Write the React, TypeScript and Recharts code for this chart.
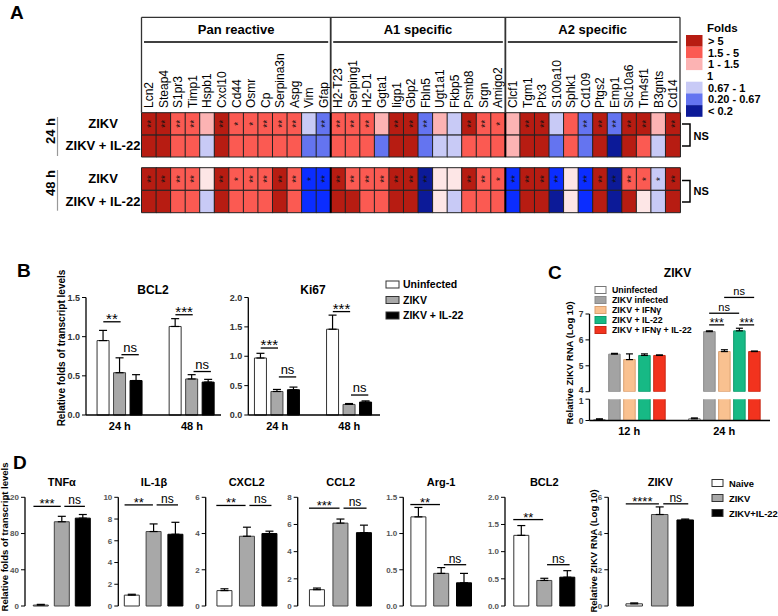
import React from 'react';
import { ComposedChart, Bar, XAxis, YAxis, Cell, ErrorBar, ReferenceLine, LabelList } from 'recharts';

const FONT = '"Liberation Sans", Arial, Helvetica, sans-serif';

// ---------------- Panel A data ----------------
const GENE_GROUPS = ['Pan reactive', 'A1 specific', 'A2 specific'];
const PAN_GENES = ['Lcn2', 'Steap4', 'S1pr3', 'Timp1', 'Hspb1', 'Cxcl10', 'Cd44', 'Osmr', 'Cp', 'Serpina3n', 'Aspg', 'Vim', 'Gfap'];
const A1_GENES = ['H2-T23', 'Serping1', 'H2-D1', 'Ggta1', 'Iigp1', 'Gbp2', 'Fbln5', 'Ugt1a1', 'Fkbp5', 'Psmb8', 'Srgn', 'Amigo2'];
const A2_GENES = ['Clcf1', 'Tgm1', 'Ptx3', 'S100a10', 'Sphk1', 'Cd109', 'Ptgs2', 'Emp1', 'Slc10a6', 'Tm4sf1', 'B3gnts', 'Cd14'];
const GENES = [...PAN_GENES, ...A1_GENES, ...A2_GENES];
const HEAT_ROWS = ['ZIKV', 'ZIKV + IL-22'];
const HEAT_TIMES = ['24 h', '48 h'];

// fold bins: D >5, R 1.5-5, P 1-1.5, W ~1, L 0.67-1, B 0.2-0.67, V strong 0.2-0.67, N <0.2
const ZIKV_24H = ['D','D','R','R','P','D','R','R','R','R','R','L','B', 'R','R','R','P','D','D','B','P','L','D','R','R', 'P','D','D','L','R','B','D','B','D','D','P','D'];
const IL22_24H = ['D','D','R','R','L','D','R','R','R','R','R','B','B', 'R','R','R','B','D','D','B','L','L','R','R','R', 'P','D','D','B','R','B','D','N','D','R','L','D'];
const ZIKV_48H = ['D','D','R','R','W','D','R','R','R','D','R','V','V', 'D','R','R','R','D','D','N','W','W','D','R','R', 'V','D','D','V','W','V','D','N','R','R','L','D'];
const IL22_48H = ['D','D','R','R','L','D','R','R','R','D','R','V','V', 'D','D','R','R','D','D','N','W','L','R','R','R', 'V','D','D','N','W','V','D','N','D','W','L','D'];
const SIG_24H = ['**','**','**','**','','**','*','*','**','**','**','','**', '**','**','**','','**','**','**','','','**','**','*', '','**','**','','','**','**','**','**','**','','**'];
const SIG_48H = ['**','**','**','**','','**','*','**','**','**','**','*','**', '**','**','**','**','**','**','**','','','**','**','*', '**','**','**','**','','**','**','**','**','*','*','**'];

const FOLD_COLORS: Record<string, string> = {
  D: '#b71c12', R: '#fb5a52', P: '#fcb3b3', W: '#fde6e6', L: '#c8caf6', B: '#6474f0', V: '#0b2dff', N: '#0c1a98',
};
const FOLD_LEGEND = [
  { label: '> 5', code: 'D' }, { label: '1.5 - 5', code: 'R' }, { label: '1 - 1.5', code: 'P' },
  { label: '0.67 - 1', code: 'L' }, { label: '0.20 - 0.67', code: 'B' }, { label: '< 0.2', code: 'N' },
];

// ---------------- Panel B data ----------------
const B_TIMES = ['24 h', '48 h'];
const B_SERIES = ['Uninfected', 'ZIKV', 'ZIKV + IL-22'];
const BCL2_MEAN = [[0.95, 0.54, 0.44], [1.13, 0.46, 0.42]];
const BCL2_SD = [[0.13, 0.19, 0.075], [0.10, 0.055, 0.035]];
const KI67_MEAN = [[0.97, 0.40, 0.43], [1.46, 0.18, 0.22]];
const KI67_SD = [[0.08, 0.035, 0.045], [0.24, 0.015, 0.02]];

// ---------------- Panel C data ----------------
const C_TIMES = ['12 h', '24 h'];
const C_SERIES = ['Uninfected', 'ZIKV infected', 'ZIKV + IFNγ', 'ZIKV + IL-22', 'ZIKV + IFNγ + IL-22'];
const C_MEAN = [[0.04, 5.45, 5.24, 5.40, 5.40], [0.08, 6.32, 5.55, 6.35, 5.55]];
const C_SD = [[0.04, 0.03, 0.22, 0.06, 0.02], [0.04, 0.03, 0.07, 0.10, 0.02]];

// ---------------- Panel D data ----------------
const D_SERIES = ['Naive', 'ZIKV', 'ZIKV+IL-22'];
const D_TITLES = ['TNFα', 'IL-1β', 'CXCL2', 'CCL2', 'Arg-1', 'BCL2', 'ZIKV'];
const D_MEAN = [[1, 93, 97], [1.0, 6.85, 6.6], [0.85, 3.85, 4.0], [1.2, 6.1, 5.4], [1.23, 0.45, 0.32], [1.3, 0.47, 0.53], [0.12, 5.05, 4.75]];
const D_SD = [[0.8, 6, 4], [0.08, 0.7, 1.1], [0.1, 0.5, 0.13], [0.12, 0.3, 0.55], [0.13, 0.08, 0.13], [0.18, 0.04, 0.12], [0.05, 0.42, 0.05]];
const D_TICKS = [[0, 40, 80, 120], [0, 2, 4, 6, 8, 10], [0, 2, 4, 6], [0, 2, 4, 6, 8], [0, 0.5, 1, 1.5], [0, 0.5, 1, 1.5, 2], [0, 2, 4, 6]];
const D_SIG = [['***', 'ns'], ['**', 'ns'], ['**', 'ns'], ['***', 'ns'], ['**', 'ns'], ['**', 'ns'], ['****', 'ns']];
const D_SIG_Y = [[110, 110], [9.3, 9.3], [5.55, 5.55], [7.2, 7.2], [1.4, 0.57], [1.59, 0.76], [5.64, 5.64]];

// ---------------- styles ----------------
const BW_FILLS = ['#ffffff', '#a8a8a8', '#000000'];
const BW_STROKES = ['#333333', '#444444', '#000000'];
const C_FILLS = ['#ffffff', '#a3a3a3', '#f9c190', '#17b985', '#f2331e'];
const C_STROKES = ['#777777', '#8a8a8a', '#d9a070', '#0f9a6c', '#c82814'];

type BarItem = { pos: number; v: number | null; e: number | null; fill: string; stroke: string };
type Bracket = { a: number; b: number; y: number; t: string; da: number; db: number };
type PanelCfg = {
  left: number; top: number; width: number; height: number;
  plotL: number; plotR: number; plotT: number; plotB: number;
  firstX: number; step: number; barSize: number;
  bars: BarItem[];
  domain: [number, number]; yTicks: number[]; yFmt: (v: number) => string;
  xTicks?: number[]; xLabels?: string[]; xAxisH?: number; hideX?: boolean;
  brackets?: Bracket[]; starSize: number; nsSize: number; starOff: number; nsOff: number;
  clipY?: boolean; capW?: number; tickFont?: number; tickWeight?: string; tickFill?: string;
  tickNudge?: Record<string, number>;
};

function BarPanel(c: PanelCfg) {
  const xAxisH = c.xAxisH ?? 0;
  const lo = -(c.firstX - c.plotL) / c.step;
  const hi = lo + (c.plotR - c.plotL) / c.step;
  const data = c.bars.map((b) => {
    const row: any = { x: b.pos, v: b.v, fill: b.fill, stroke: b.stroke };
    if (b.e != null) row.e = [0, b.e];
    return row;
  });
  const margin = {
    top: c.plotT - c.top,
    right: c.left + c.width - c.plotR,
    bottom: c.top + c.height - c.plotB - (c.hideX ? 0 : xAxisH),
    left: 0,
  };
  const xt = c.xTicks;
  const tf = c.tickFont ?? 9;
  const yTickStyle = { fontSize: tf, fontWeight: c.tickWeight ?? 'bold', fill: c.tickFill ?? '#333', fontFamily: FONT };
  const yTick = c.tickNudge
    ? (p: any) => (
        <text x={p.x} y={p.y} dy={tf * 0.355 + (c.tickNudge![String(p.payload.value)] ?? 0)} textAnchor="end" {...yTickStyle}>
          {c.yFmt(p.payload.value)}
        </text>
      )
    : yTickStyle;
  return (
    <div style={{ position: 'absolute', left: c.left, top: c.top }}>
      <ComposedChart width={c.width} height={c.height} data={data} margin={margin}>
        <XAxis
          type="number"
          dataKey="x"
          domain={[lo, hi]}
          allowDataOverflow
          hide={!!c.hideX}
          height={xAxisH}
          ticks={xt && xt.length ? xt : undefined}
          interval={0}
          tickFormatter={(v: number) => {
            if (!xt || !c.xLabels) return '';
            const k = xt.findIndex((t) => Math.abs(t - v) < 1e-6);
            return k >= 0 ? c.xLabels[k] : '';
          }}
          axisLine={{ stroke: '#000', strokeWidth: 1.3 }}
          tickLine={false}
          tickSize={5}
          tickMargin={2}
          tick={xt && xt.length ? { fontSize: 11, fontWeight: 'bold', fill: '#000', fontFamily: FONT } : false}
        />
        <YAxis
          type="number"
          domain={c.domain}
          ticks={c.yTicks}
          interval={0}
          allowDataOverflow={!!c.clipY}
          width={c.plotL - c.left}
          tickFormatter={c.yFmt}
          axisLine={{ stroke: '#000', strokeWidth: 1.3 }}
          tickLine={{ stroke: '#000', strokeWidth: 1 }}
          tickSize={4}
          tickMargin={2}
          tick={yTick as any}
        />
        <Bar dataKey="v" barSize={c.barSize} isAnimationActive={false}>
          {data.map((d: any, i: number) => (
            <Cell key={i} fill={d.fill} stroke={d.stroke} strokeWidth={1} />
          ))}
          <ErrorBar dataKey="e" width={c.capW ?? 4} stroke="#000" strokeWidth={1.2} direction="y" />
        </Bar>
        {(c.brackets ?? []).map((br, i) => {
          const x1 = c.bars[br.a].pos + br.da;
          const x2 = c.bars[br.b].pos + br.db;
          const star = br.t.includes('*');
          return (
            <ReferenceLine
              key={i}
              segment={[{ x: x1, y: br.y }, { x: x2, y: br.y }]}
              stroke="#000"
              strokeWidth={1.3}
              ifOverflow="visible"
              label={{
                value: br.t,
                position: 'top',
                offset: star ? c.starOff : c.nsOff,
                fontSize: star ? c.starSize : c.nsSize,
                fill: '#000',
                fontFamily: FONT,
              }}
            />
          );
        })}
      </ComposedChart>
    </div>
  );
}

// ---------------- heatmap ----------------
const HM_L = 141.5;
const HM_R = 680;
const HM_W = (HM_R - HM_L) / GENES.length;
const HM_CHART_W = 700;

const renderSig = (p: any) => {
  const vb = p.viewBox && p.viewBox.width != null ? p.viewBox : p;
  const { x, y, width, height } = vb;
  const value = p.value;
  if (!value) return null;
  const cx = x + width / 2;
  const cy = y + height / 2;
  const fs = 10;
  return (
    <text
      transform={`translate(${cx},${cy}) rotate(-90)`}
      x={0}
      y={fs * 0.57}
      textAnchor="middle"
      fontSize={fs}
      fontFamily={FONT}
      fill="#111"
    >
      {value}
    </text>
  );
};

function HeatBlock(props: {
  top: number; height: number; plotT: number; plotB: number;
  zikv: string[]; il22: string[]; sig: string[]; showGenes: boolean;
}) {
  const { top, height, plotT, plotB, zikv, il22, sig, showGenes } = props;
  const data = GENES.map((g, i) => ({ gene: g, lower: 1, upper: 1, zc: zikv[i], ic: il22[i], sig: sig[i] }));
  const xH = showGenes ? 95 : 0;
  const margin = { top: plotT - top - xH, right: HM_CHART_W - HM_R, bottom: top + height - plotB, left: 0 };
  return (
    <div style={{ position: 'absolute', left: 0, top }}>
      <ComposedChart width={HM_CHART_W} height={height} data={data} margin={margin} barCategoryGap={0} barGap={0}>
        <XAxis
          dataKey="gene"
          type="category"
          orientation="top"
          hide={!showGenes}
          height={xH}
          interval={0}
          tickLine={false}
          axisLine={false}
          tick={(p: any) => (
            <text
              transform={`translate(${p.x + 4.4},${108 - top}) rotate(-90)`}
              x={0}
              y={0}
              textAnchor="start"
              fontSize={12}
              fontFamily={FONT}
              fill="#000"
            >
              {p.payload.value}
            </text>
          )}
        />
        <YAxis
          type="number"
          domain={[0, 2]}
          ticks={[0.5, 1.5]}
          interval={0}
          width={HM_L}
          tickLine={false}
          axisLine={false}
          tick={(p: any) => (
            <text x={103} y={p.y + 4.5} textAnchor="middle" fontSize={13} fontWeight="bold" fontFamily={FONT} fill="#000">
              {p.payload.value > 1 ? HEAT_ROWS[0] : HEAT_ROWS[1]}
            </text>
          )}
        />
        <Bar dataKey="lower" stackId="h" isAnimationActive={false}>
          {data.map((d, i) => (
            <Cell key={i} fill={FOLD_COLORS[d.ic]} stroke="#222" strokeWidth={1} />
          ))}
        </Bar>
        <Bar dataKey="upper" stackId="h" isAnimationActive={false}>
          {data.map((d, i) => (
            <Cell key={i} fill={FOLD_COLORS[d.zc]} stroke="#222" strokeWidth={1} />
          ))}
          <LabelList dataKey="sig" content={renderSig} />
        </Bar>
        <ReferenceLine x={A1_GENES[0]} position="start" stroke="#000" strokeWidth={2} />
        <ReferenceLine x={A2_GENES[0]} position="start" stroke="#000" strokeWidth={2} />
      </ComposedChart>
    </div>
  );
}

// ---------------- builders ----------------
function buildBars(means: number[][], sds: number[][], groupGap: number, fills: string[], strokes: string[]): BarItem[] {
  const out: BarItem[] = [];
  means.forEach((g, gi) => {
    g.forEach((v, si) => {
      out.push({ pos: gi * groupGap + si, v, e: sds[gi][si], fill: fills[si], stroke: strokes[si] });
    });
  });
  return out;
}

const fmt1 = (v: number) => v.toFixed(1);
const fmt0 = (v: number) => String(v);

export default function App() {
  // Panel B
  const B_GAP = 4.37;
  const bcl2Bars = buildBars(BCL2_MEAN, BCL2_SD, B_GAP, BW_FILLS, BW_STROKES);
  const ki67Bars = buildBars(KI67_MEAN, KI67_SD, B_GAP, BW_FILLS, BW_STROKES);
  const bXT = [1, 1 + B_GAP];
  const bCommon = {
    top: 285, height: 150, plotT: 297.5, plotB: 415, step: 16.5, barSize: 12,
    xTicks: bXT, xLabels: B_TIMES, xAxisH: 20, starSize: 15, nsSize: 13, starOff: -2, nsOff: 3, capW: 4, tickFont: 9,
  };
  const bBr = (ys: number[], ts: string[]): Bracket[] => [
    { a: 0, b: 1, y: ys[0], t: ts[0], da: 0, db: 0.05 },
    { a: 1, b: 2, y: ys[1], t: ts[1], da: 0.1, db: 0.15 },
    { a: 3, b: 4, y: ys[2], t: ts[2], da: 0, db: 0.05 },
    { a: 4, b: 5, y: ys[3], t: ts[3], da: 0.1, db: 0.15 },
  ];

  // Panel C
  const C_GAP = 6.33;
  const cBarsAll = buildBars(C_MEAN, C_SD, C_GAP, C_FILLS, C_STROKES);
  const cUpper = cBarsAll.map((b) => (b.v != null && b.v > 4 ? b : { ...b, v: null, e: null }));
  const cLower = cBarsAll.map((b) => (b.v != null && b.v > 1 ? { ...b, e: null } : b));
  const cCommon = { left: 570, width: 208, plotL: 589.5, plotR: 770, firstX: 599.2, step: 15, barSize: 11.5,
    starSize: 12, nsSize: 11, starOff: -2, nsOff: 2, capW: 3.5, tickFont: 8.5 };
  const cBr: Bracket[] = [
    { a: 6, b: 7, y: 6.58, t: '***', da: 0, db: 0 },
    { a: 8, b: 9, y: 6.58, t: '***', da: 0, db: 0 },
    { a: 6, b: 8, y: 7.03, t: 'ns', da: 0, db: 0 },
    { a: 7, b: 9, y: 7.64, t: 'ns', da: 0, db: 0 },
  ];

  // Panel D
  const dGeo = [
    { left: 0, width: 100, plotL: 25, plotR: 96, firstX: 40.8, step: 21, barSize: 15 },
    { left: 95, width: 95, plotL: 118.3, plotR: 187, firstX: 132.2, step: 21.8, barSize: 15 },
    { left: 185, width: 100, plotL: 205.7, plotR: 282, firstX: 224.2, step: 22.5, barSize: 15 },
    { left: 278, width: 100, plotL: 297.7, plotR: 376, firstX: 317.2, step: 23.5, barSize: 15 },
    { left: 380, width: 100, plotL: 403.3, plotR: 477, firstX: 418.3, step: 22.8, barSize: 15 },
    { left: 480, width: 100, plotL: 505, plotR: 580, firstX: 521.3, step: 23, barSize: 15 },
    { left: 586, width: 115, plotL: 608.3, plotR: 698, firstX: 634.7, step: 25.5, barSize: 16.5 },
  ];

  const overlayText = (x: number, y: number, s: string, size: number, opts: any = {}) => (
    <text x={x} y={y} fontSize={size} fontFamily={FONT} fontWeight={opts.weight ?? 'bold'} textAnchor={opts.anchor ?? 'start'} fill="#000">
      {s}
    </text>
  );
  const vText = (x: number, y: number, s: string, size: number) => (
    <text transform={`translate(${x},${y}) rotate(-90)`} x={0} y={0} textAnchor="middle" fontSize={size} fontWeight="bold" fontFamily={FONT} fill="#000">
      {s}
    </text>
  );

  const secEdges = [HM_L, HM_L + PAN_GENES.length * HM_W, HM_L + (PAN_GENES.length + A1_GENES.length) * HM_W, HM_R];

  return (
    <div style={{ position: 'absolute', left: 0, top: 0, width: 778, height: 616, background: '#fff', overflow: 'hidden', fontFamily: FONT }}>
      {/* Panel A heatmaps */}
      <HeatBlock top={0} height={160} plotT={112.7} plotB={157} zikv={ZIKV_24H} il22={IL22_24H} sig={SIG_24H} showGenes />
      <HeatBlock top={160} height={60} plotT={167.7} plotB={212.7} zikv={ZIKV_48H} il22={IL22_48H} sig={SIG_48H} showGenes={false} />

      {/* Panel B */}
      <BarPanel {...bCommon} left={40} width={190} plotL={86} plotR={221} firstX={103.3} bars={bcl2Bars}
        domain={[0, 1.5]} yTicks={[0, 0.5, 1, 1.5]} yFmt={fmt1} brackets={bBr([1.19, 0.77, 1.28, 0.555], ['**', 'ns', '***', 'ns'])} />
      <BarPanel {...bCommon} left={210} width={175} plotL={248.3} plotR={380} firstX={260.7} bars={ki67Bars}
        domain={[0, 2]} yTicks={[0, 0.5, 1, 1.5, 2]} yFmt={fmt1} brackets={bBr([1.14, 0.648, 1.76, 0.34], ['***', 'ns', '***', 'ns'])} />

      {/* Panel C (broken y axis: upper 4-7, lower 0-1) */}
      <BarPanel {...cCommon} top={280} height={118} plotT={314} plotB={391.7} hideX bars={cUpper}
        domain={[4, 7]} yTicks={[4, 5, 6, 7]} yFmt={fmt0} clipY brackets={cBr} tickNudge={{ '4': -1.5 }} />
      <BarPanel {...cCommon} top={395} height={50} plotT={399.2} plotB={420.5} bars={cLower}
        domain={[0, 1]} yTicks={[0, 1]} yFmt={fmt0} clipY xTicks={[2, 2 + C_GAP]} xLabels={C_TIMES} xAxisH={20} tickNudge={{ '1': 1.5 }} />

      {/* Panel D */}
      {dGeo.map((g, k) => {
        const bars = buildBars([D_MEAN[k]], [D_SD[k]], 0, BW_FILLS, BW_STROKES);
        const ticks = D_TICKS[k];
        const max = ticks[ticks.length - 1];
        const dec = ticks.some((t) => t % 1 !== 0);
        return (
          <BarPanel key={k} {...g} top={478} height={138} plotT={497.3} plotB={606} bars={bars}
            domain={[0, max]} yTicks={ticks} yFmt={dec ? fmt1 : fmt0} xAxisH={0}
            starSize={13} nsSize={12} starOff={-2} nsOff={2} capW={4} tickFont={8} tickWeight="bold" tickFill="#555"
            brackets={[
              { a: 0, b: 1, y: D_SIG_Y[k][0], t: D_SIG[k][0], da: -0.35, db: -0.05 },
              { a: 1, b: 2, y: D_SIG_Y[k][1], t: D_SIG[k][1], da: 0.12, db: 0.1 },
            ]} />
        );
      })}

      {/* overlay annotations */}
      <svg width={778} height={616} style={{ position: 'absolute', left: 0, top: 0, pointerEvents: 'none' }}>
        {/* panel letters */}
        {overlayText(10, 19, 'A', 19)}
        {overlayText(17, 277, 'B', 19)}
        {overlayText(548, 279, 'C', 19)}
        {overlayText(13, 469, 'D', 19)}

        {/* heatmap header box */}
        <line x1={HM_L} y1={17.3} x2={HM_R} y2={17.3} stroke="#333" strokeWidth={1.3} />
        {secEdges.map((x, i) => (
          <line key={i} x1={x} y1={17.3} x2={x} y2={112.7} stroke="#333" strokeWidth={i === 0 || i === 3 ? 1.3 : 1.8} />
        ))}
        {GENE_GROUPS.map((g, i) => {
          const l = secEdges[i];
          const r = secEdges[i + 1];
          return (
            <g key={g}>
              {overlayText((l + r) / 2, 33.5, g, 13, { anchor: 'middle' })}
              <line x1={l + 2.5} y1={42} x2={r - 2.5} y2={42} stroke="#000" strokeWidth={1.6} />
            </g>
          );
        })}

        {/* time labels */}
        {vText(54.5, 131, HEAT_TIMES[0], 13)}
        <line x1={57.5} y1={117} x2={57.5} y2={156} stroke="#999" strokeWidth={1.2} />
        {vText(54.5, 183, HEAT_TIMES[1], 13)}
        <line x1={57.5} y1={170} x2={57.5} y2={210.7} stroke="#999" strokeWidth={1.2} />

        {/* NS brackets */}
        <path d="M682 124 H690 V146 H682" fill="none" stroke="#000" strokeWidth={1.5} />
        {overlayText(693.5, 139.5, 'NS', 11)}
        <path d="M682 180.5 H690 V202 H682" fill="none" stroke="#000" strokeWidth={1.5} />
        {overlayText(693.5, 195, 'NS', 11)}

        {/* fold legend */}
        {overlayText(707, 32, 'Folds', 11.5)}
        {FOLD_LEGEND.map((f, i) => {
          const y = i < 3 ? 35 + i * 11.7 : 81.7 + (i - 3) * 11.7;
          return (
            <g key={f.label}>
              <rect x={686} y={y} width={16.5} height={11.7} fill={FOLD_COLORS[f.code]} />
              {overlayText(708, y + 10, f.label, 11)}
            </g>
          );
        })}
        {overlayText(707, 79.5, '1', 11)}

        {/* Panel B labels */}
        {vText(64.5, 348, 'Relative folds of transcript levels', 10)}
        {overlayText(153, 294, 'BCL2', 12, { anchor: 'middle' })}
        {overlayText(313, 294, 'Ki67', 12, { anchor: 'middle' })}
        {B_SERIES.map((s, i) => {
          const cy = [284.5, 300, 315.5][i];
          return (
            <g key={s}>
              <rect x={386} y={cy - 3.5} width={13} height={7} fill={BW_FILLS[i]} stroke="#333" strokeWidth={1} />
              {overlayText(403, cy + 3.8, s, 10.5)}
            </g>
          );
        })}

        {/* Panel C labels */}
        {overlayText(677.5, 277, 'ZIKV', 12, { anchor: 'middle' })}
        {vText(573, 363, 'Relative ZIKV RNA (Log 10)', 9.5)}
        {C_SERIES.map((s, i) => {
          const cy = 290 + i * 10;
          return (
            <g key={s}>
              <rect x={595} y={cy - 3.5} width={11} height={7} fill={C_FILLS[i]} stroke={C_STROKES[i]} strokeWidth={1} />
              {overlayText(612, cy + 3.2, s, 8.8)}
            </g>
          );
        })}

        {/* Panel D labels */}
        {vText(7.5, 537, 'Relative folds of transcript levels', 9.5)}
        {vText(596.5, 551, 'Relative ZIKV RNA (Log 10)', 9.5)}
        {D_TITLES.map((t, k) => {
          const g = dGeo[k];
          return <g key={t}>{overlayText(g.firstX + g.step, 485.5, t, 11, { anchor: 'middle' })}</g>;
        })}
        {D_SERIES.map((s, i) => {
          const cy = 483 + i * 15;
          return (
            <g key={s}>
              <rect x={712} y={cy - 3.5} width={11} height={7} fill={BW_FILLS[i]} stroke="#333" strokeWidth={1} />
              {overlayText(729, cy + 3.6, s, 9.4)}
            </g>
          );
        })}
      </svg>
    </div>
  );
}
